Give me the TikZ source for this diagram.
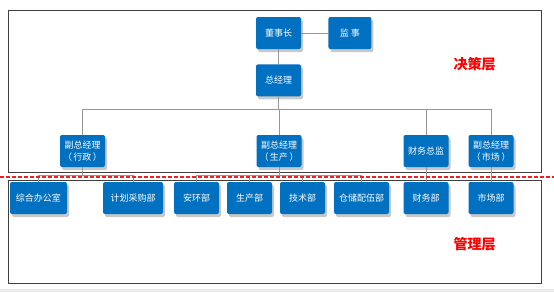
\documentclass[tikz,border=0pt]{standalone}
\usepackage{fontspec}
\newfontfamily\cjk{Noto Sans CJK SC}
\usetikzlibrary{positioning,shadows}
\definecolor{unitblue}{RGB}{0,112,192}
\definecolor{framegray}{RGB}{64,64,64}
\definecolor{linkgray}{RGB}{150,150,150}
\definecolor{cutred}{RGB}{240,30,30}

\begin{document}
\begin{tikzpicture}[
  x=1pt, y=-1pt, node distance=15pt and 27pt,
  unit/.style={fill=unitblue, rounded corners=2pt, text=white, align=center, font=\cjk\fontsize{9}{12}\selectfont, minimum width=45pt, minimum height=32pt, inner sep=2pt, drop shadow={shadow xshift=2pt, shadow yshift=-3pt, opacity=0.3, fill=black!70}},
  link/.style={draw=linkgray, line width=0.8pt},
  layer/.style={draw=framegray, line width=1pt},
  tag/.style={text=red, font=\cjk\bfseries\fontsize{14}{16}\selectfont}
]
  \useasboundingbox[fill=white] (0,0) rectangle (554,292);
  \fill[black!8] (0,289) rectangle (554,292);
  \draw[layer] (8,10) rectangle (541,172);
  \draw[layer] (8,180) rectangle (541,283);
  \node[unit] (chair) at (278.5,33) {董事长};
  \node[unit, right=of chair, minimum width=43pt] (super) {监\ 事};
  \node[unit, below=of chair] (ceo) {总经理};
  \node[unit] (vpadm) at (82.5,151) {副总经理\\（\,行政\,）};
  \node[unit] (vpprod) at (279,151) {副总经理\\（\,生产\,）};
  \node[unit] (cfo) at (426,151) {财务总监};
  \node[unit] (vpmkt) at (491,151) {副总经理\\（\,市场\,）};
  \node[unit, minimum width=57pt] (office) at (38.5,198) {综合办公室};
  \node[unit, minimum width=60pt] (purch) at (133,198) {计划采购部};
  \node[unit] (safety) at (196.5,198) {安环部};
  \node[unit] (prod) at (249.5,198) {生产部};
  \node[unit] (tech) at (302.5,198) {技术部};
  \node[unit, minimum width=55pt] (store) at (361.5,198) {仓储配伍部};
  \node[unit] (fin) at (426,198) {财务部};
  \node[unit] (mkt) at (491,198) {市场部};
  \draw[link] (chair) -- (super);
  \draw[link] (chair) -- (ceo);
  \foreach \n in {vpadm,vpprod,cfo,vpmkt}
    \draw[link] (ceo.south) -- ++(0,12.5) -| (\n.north);
  \foreach \n in {office,purch}
    \draw[link] (vpadm.south) -- ++(0,8) -| (\n.north);
  \foreach \n in {safety,prod,tech,store}
    \draw[link] (vpprod.south) -- ++(0,8) -| (\n.north);
  \draw[link] (cfo) -- (fin);
  \draw[link] (vpmkt) -- (mkt);
  \draw[cutred, line width=1.6pt, dash pattern=on 4pt off 2pt] (0,177) -- (554,177);
  \node[tag] (decide) at (474.5,64) {决策层};
  \node[tag] (manage) at (474.5,244) {管理层};
\end{tikzpicture}
\end{document}
